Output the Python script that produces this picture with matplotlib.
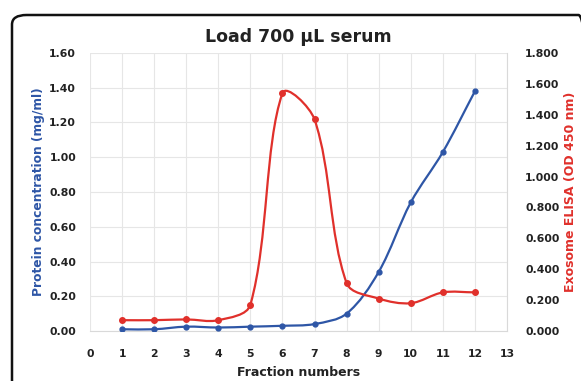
import numpy as np
import matplotlib
matplotlib.use("Agg")
import matplotlib.pyplot as plt
from matplotlib.path import Path
from matplotlib.patches import PathPatch, FancyBboxPatch

BLUE = "#2E56A6"; RED = "#E0302B"; INK = "#222222"

fractions = [1, 2, 3, 4, 5, 6, 7, 8, 9, 10, 11, 12]
protein = [0.01, 0.01, 0.025, 0.02, 0.025, 0.03, 0.04, 0.10, 0.34, 0.74, 1.03, 1.38]
elisa = [0.07, 0.07, 0.075, 0.07, 0.17, 1.54, 1.37, 0.31, 0.21, 0.18, 0.25, 0.25]


def smooth_path(xs, ys, sx, sy):
    # Excel-like smoothed line: Bezier arms scaled by neighbouring segment lengths (in pixel space)
    pts = np.column_stack([np.asarray(xs, float) * sx, np.asarray(ys, float) * sy])
    n = len(pts)
    d = np.hypot(*np.diff(pts, axis=0).T)
    verts = [pts[0]]; codes = [Path.MOVETO]
    for i in range(n - 1):
        p1, p2 = pts[i], pts[i + 1]
        if i > 0:
            t1 = pts[i + 1] - pts[i - 1]
            c1 = p1 + t1 * d[i] / (d[i - 1] + d[i]) / 3
        else:
            c1 = p1 + (p2 - p1) / 3
        if i + 2 < n:
            t2 = pts[i + 2] - pts[i]
            c2 = p2 - t2 * d[i] / (d[i] + d[i + 1]) / 3
        else:
            c2 = p2 - (p2 - p1) / 3
        verts += [c1, c2, p2]
        codes += [Path.CURVE4] * 3
    verts = np.array(verts) / [sx, sy]
    return Path(verts, codes)


fig = plt.figure(figsize=(5.81, 3.81), dpi=100)
fig.patches.append(FancyBboxPatch((12 / 581, -0.05), 1.0, (381 - 15) / 381 + 0.05,
                                  boxstyle="round,pad=0,rounding_size=0.025",
                                  transform=fig.transFigure, fill=False,
                                  ec="#111111", lw=1.8, figure=fig))

ax = fig.add_axes([90 / 581, 1 - 331 / 381, 417 / 581, 278 / 381])
ax2 = ax.twinx()

sx = 417 / 13
ax.add_patch(PathPatch(smooth_path(fractions, protein, sx, 278 / 1.6), fill=False, ec=BLUE, lw=1.6, zorder=3))
ax.plot(fractions, protein, ls="none", marker="o", ms=3.5, color=BLUE, zorder=4)
ax2.add_patch(PathPatch(smooth_path(fractions, elisa, sx, 278 / 1.8), fill=False, ec=RED, lw=1.6, zorder=3))
ax2.plot(fractions, elisa, ls="none", marker="o", ms=4, color=RED, zorder=4)

ax.set_xlim(0, 13)
ax.set_ylim(0, 1.6)
ax2.set_ylim(0, 1.8)
ax.set_xticks(range(0, 14))
ax.set_yticks(np.arange(0, 1.61, 0.2))
ax2.set_yticks(np.arange(0, 1.81, 0.2))
ax.set_yticklabels([f"{v:.2f}" for v in np.arange(0, 1.61, 0.2)])
ax2.set_yticklabels([f"{v:.3f}" for v in np.arange(0, 1.81, 0.2)])
ax.grid(True, color="#E6E6E6", lw=0.8)
ax.set_axisbelow(True)
for a in (ax, ax2):
    for s in a.spines.values():
        s.set_visible(False)
    a.tick_params(length=0, labelsize=7.8, colors=INK)
    for lab in a.get_xticklabels() + a.get_yticklabels():
        lab.set_fontweight("bold")
ax.tick_params(axis="y", pad=10)
ax.tick_params(axis="x", pad=13)
ax2.tick_params(axis="y", pad=13)
ax.spines["right"].set_visible(True)
ax.spines["right"].set_color("#D9D9D9")
ax.spines["bottom"].set_visible(True)
ax.spines["bottom"].set_color("#D9D9D9")

ax.set_title("Load 700 µL serum", fontsize=12.5, fontweight="bold", color=INK, pad=8)
ax.set_xlabel("Fraction numbers", fontsize=9, fontweight="bold", color=INK, labelpad=5)
ax.set_ylabel("Protein concentration (mg/ml)", fontsize=8.8, fontweight="bold", color=BLUE, labelpad=3)
ax2.set_ylabel("Exosome ELISA (OD 450 nm)", fontsize=9, fontweight="bold", color=RED, labelpad=3)

fig.savefig("out.png", dpi=100, facecolor="white")
